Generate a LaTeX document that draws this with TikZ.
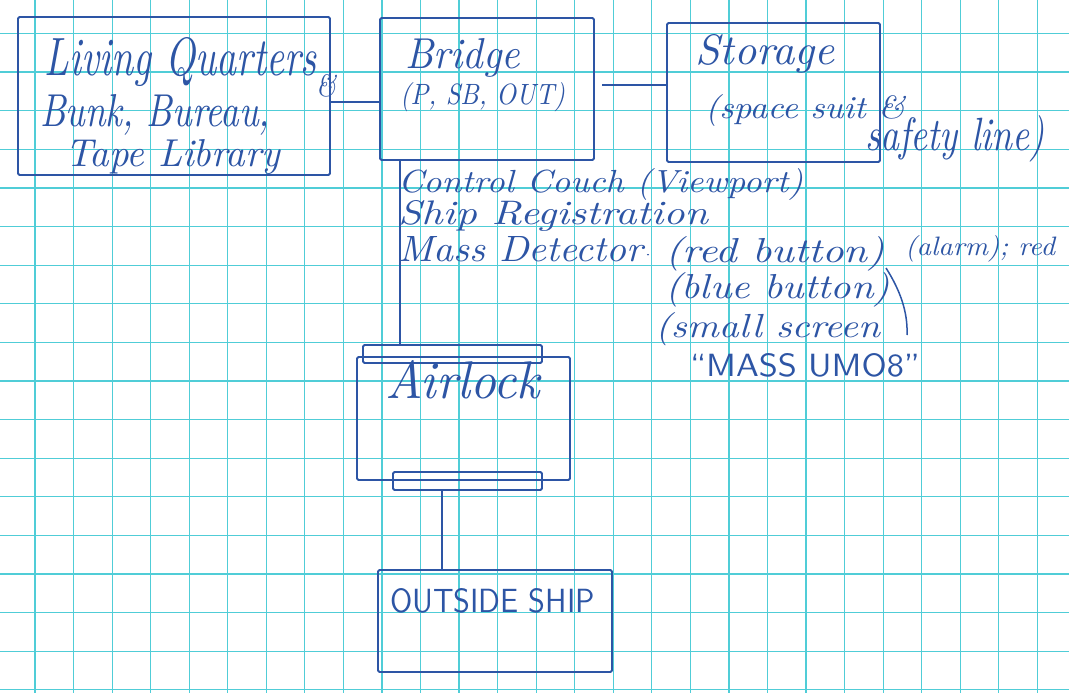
\documentclass[tikz,border=0pt]{standalone}
\usepackage{graphicx}
\definecolor{ink}{RGB}{45,85,165}
\definecolor{gridc}{RGB}{80,205,215}
\newcommand\hw[3]{\resizebox{#1pt}{#2pt}{\itshape #3}}
\newcommand\hc[3]{\resizebox{#1pt}{#2pt}{\sffamily #3}}
\begin{document}
\begin{tikzpicture}[x=1pt,y=-1pt,
  box/.style={draw=ink,line width=1.8pt,inner sep=0pt,outer sep=0pt,rounded corners=1.5pt},
  link/.style={draw=ink,line width=1.8pt},
  gridline/.style={draw=gridc,line width=1.2pt},
  txt/.style={text=ink,anchor=base west,inner sep=0pt,outer sep=0pt}]
\useasboundingbox (0,0) rectangle (1069,693);
\fill[white] (0,0) rectangle (1069,693);
% grid paper
\foreach \k in {0,...,26} \draw[gridline] ({35+38.55*\k},0) -- ({35+38.55*\k},693);
\foreach \k in {0,...,17} \draw[gridline] (0,{33.5+38.6*\k}) -- (1069,{33.5+38.6*\k});
% boxes
\node[box,minimum width=312pt,minimum height=158pt] (lq) at (174,96) {};
\node[box,minimum width=214pt,minimum height=142pt] (bridge) at (487,89) {};
\node[box,minimum width=213pt,minimum height=139pt] (storage) at (773.5,92.5) {};
\node[box,minimum width=213pt,minimum height=123pt] (airlock) at (463.5,418.5) {};
\node[box,minimum width=179pt,minimum height=18pt] (afT) at (452.5,354) {};
\node[box,minimum width=149pt,minimum height=18pt] (afB) at (467.5,481) {};
\node[box,minimum width=234pt,minimum height=102pt] (outside) at (495,621) {};
% connectors
\draw[link] ([yshift=-6pt]lq.east) -- ([yshift=-6pt]lq.east -| bridge.west);
\draw[link] ([xshift=8pt,yshift=4pt]bridge.east) -- ([yshift=4pt]bridge.east -| storage.west);
\draw[link] ([xshift=20pt]bridge.south west) -- ([xshift=20pt]bridge.south west |- afT.north);
\draw[link] ([xshift=-53pt]outside.north) -- ([xshift=-53pt]outside.north |- afB.south);
% texts
\node[txt] (t1) at (45,76) {\hw{272}{38}{Living Quarters}};
\node[txt] (t1b) at (316,96) {\hw{20}{22}{\&}};
\node[txt] (t2) at (40,126) {\hw{230}{32}{Bunk, Bureau,}};
\node[txt] (t3) at (65,166) {\hw{215}{27}{Tape Library}};
\node[txt] (t4) at (405,69) {\hw{115}{30}{Bridge}};
\node[txt] (t5) at (400,104) {\hw{165}{22}{(P, SB, OUT)}};
\node[txt] (t6) at (695,65) {\hw{140}{30}{Storage}};
\node[txt] (t7) at (705,118) {\hw{200}{24}{(space suit \&}};
\node[txt] (t8) at (865,150) {\hw{180}{35}{safety line)}};
\node[txt] (t9) at (398,192) {\hw{405}{24}{Control Couch (Viewport)}};
\node[txt] (t10) at (398,224) {\hw{310}{24}{Ship Registration}};
\node[txt] (t11) at (398,261) {\hw{245}{25}{Mass Detector}};
\node[txt] (t11b) at (645,258) {\hw{6}{6}{$\cdot$}};
\node[txt] (t12) at (665,262) {\hw{220}{26}{(red button)}};
\node[txt] (t13) at (905,255) {\hw{150}{20}{(alarm); red}};
\node[txt] (t14) at (665,298) {\hw{225}{26}{(blue button)}};
\node[txt] (t15) at (655,337) {\hw{225}{25}{(small screen}};
\node[txt] (t16) at (690,376) {\hc{230}{23}{``MASS UMO8''}};
\node[txt] (t17) at (385,398) {\hw{155}{38}{Airlock}};
\node[txt] (t18) at (390,612) {\hc{205}{24}{OUTSIDE SHIP}};
\draw[ink,line width=1.5pt] (886,268) .. controls (900,290) and (908,312) .. (907,335);
\end{tikzpicture}
\end{document}
